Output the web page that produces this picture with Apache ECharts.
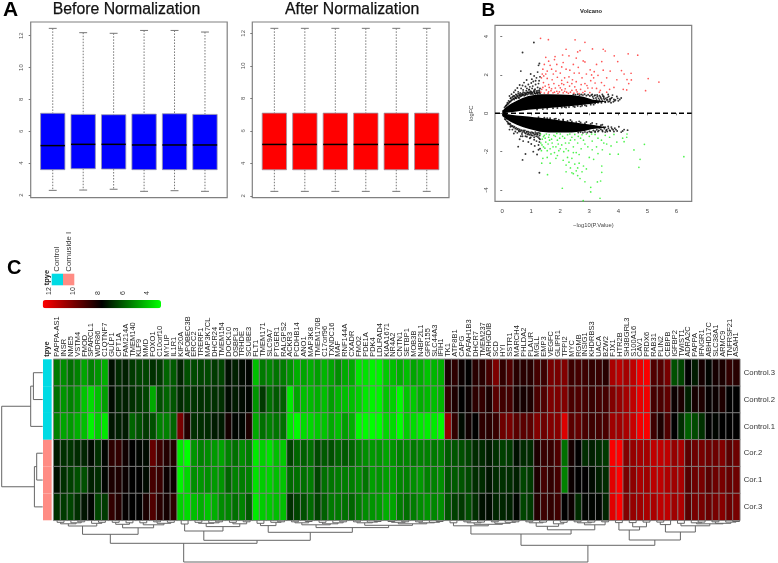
<!DOCTYPE html>
<html><head><meta charset="utf-8">
<style>html,body{margin:0;padding:0;background:#fff}#c{width:778px;height:563px}</style>
<script src="https://cdn.jsdelivr.net/npm/echarts@6/dist/echarts.min.js"></script>
</head><body><div id="c"></div>
<script>
// ---------- Panel A: boxplot statistics [sample, min, Q1, median, Q3, max]
const boxBefore = [
 [1,2.29,3.59,5.10,7.13,12.46],[2,2.31,3.65,5.18,7.06,12.19],[3,2.36,3.63,5.18,7.04,12.15],
 [4,2.23,3.59,5.14,7.08,12.33],[5,2.27,3.59,5.14,7.10,12.33],[6,2.23,3.59,5.14,7.06,12.23]];
const boxAfter = [
 [1,2.27,3.60,5.16,7.09,12.31],[2,2.27,3.60,5.16,7.09,12.31],[3,2.27,3.60,5.16,7.09,12.31],
 [4,2.27,3.60,5.16,7.09,12.31],[5,2.27,3.60,5.16,7.09,12.31],[6,2.27,3.60,5.16,7.09,12.31]];
const boxTicks = [2,4,6,8,10,12];

// ---------- Panel B: volcano
const volcanoRed = [[1.32,3.91],[1.59,3.84],[2.51,3.83],[2.85,3.7],[2.2,3.34],[3.11,3.36],[3.48,3.34],[3.55,3.25],[2.68,3.27],[2.6,3.2],[3.86,3.0],[4.34,3.1],[4.67,3.03],[3.98,2.7],[3.43,2.7],[2.79,2.73],[2.85,2.68],[1.5,2.92],[1.82,2.96],[2.08,3.04],[2.3,3.0],[5.03,1.81],[5.4,1.63],[4.94,1.18],[4.11,2.23],[4.2,2.05],[4.44,2.09],[4.3,1.76],[4.45,1.74],[4.36,1.55],[4.17,1.25],[4.29,1.22],[3.95,1.75],[3.72,2.2],[3.48,2.25],[3.03,2.27],[3.17,2.17],[3.3,1.98],[3.15,1.85],[3.05,1.7],[3.2,1.58],[3.52,1.45],[3.7,1.25],[3.6,1.1],[3.25,1.3],[3.38,1.2],[2.95,1.32],[2.85,1.55],[2.75,1.85],[2.65,2.1],[2.62,2.4],[2.33,2.25],[2.2,2.3],[2.45,2.55],[2.1,2.65],[1.88,2.55],[1.8,2.8],[1.6,2.72],[1.45,2.55],[1.4,2.3],[1.38,2.05],[1.35,1.85],[1.55,2.2],[1.7,2.3],[1.85,2.2],[2,2.1],[2.15,1.85],[2.3,1.9],[2.42,1.75],[2.55,1.65],[2.25,1.62],[2.05,1.72],[1.9,1.88],[1.72,1.75],[1.55,1.82],[1.42,1.6],[1.6,1.5],[1.78,1.55],[1.95,1.45],[2.12,1.5],[2.32,1.42],[2.5,1.38],[2.7,1.25],[2.85,1.15],[3.02,1.08],[2.58,1.12],[2.4,1.2],[2.22,1.1],[2.05,1.22],[1.88,1.15],[1.7,1.28],[1.52,1.22],[1.4,1.35],[1.33,1.1],[1.45,1.06],[1.6,1.12],[1.75,1.07],[1.92,1.04],[2.1,1.07],[2.28,1.04],[2.47,1.05],[2.65,1.03],[2.78,1.08],[1.36,1.25],[1.48,1.42],[1.62,1.35],[1.83,1.32],[2.0,1.33],[2.17,1.28],[1.58,1.05],[1.68,1.18],[1.8,1.1],[1.97,1.12],[2.15,1.15],[2.35,1.1],[2.55,1.22],[2.92,1.45],[3.1,1.32],[3.42,1.6],[3.6,1.85],[3.85,1.35],[2.9,2.05],[3.25,2.55],[2.55,2.88],[2.05,2.42],[1.65,2.5],[1.5,2.05],[1.76,2.05],[2.48,2.1],[2.72,1.5],[3.35,1.1],[3.08,2.0],[2.4,1.55],[2.05,1.55],[1.43,1.95]];
const volcanoGreen = [[6.26,-2.26],[4.9,-1.62],[4.54,-1.91],[4.75,-2.4],[4.71,-2.82],[4.29,-1.25],[4.2,-1.48],[4.15,-1.3],[4.0,-2.13],[3.71,-2.13],[3.43,-2.75],[3.43,-3.08],[3.39,-3.53],[3.28,-3.58],[3.37,-4.43],[2.79,-4.56],[2.07,-3.91],[3.05,-3.86],[3.05,-4.1],[2.85,-3.57],[2.68,-3.4],[1.56,-3.2],[1.36,-2.6],[1.65,-2.6],[1.9,-2.2],[2.1,-2.45],[2.25,-2.3],[2.4,-2.35],[2.2,-2.7],[2.35,-2.85],[2.5,-2.65],[2.65,-2.6],[2.8,-2.75],[2.55,-3.0],[2.4,-3.1],[2.6,-3.25],[2.2,-3.05],[2.9,-2.9],[3.0,-2.3],[3.15,-2.4],[3.3,-2.1],[3.1,-1.9],[3.25,-1.75],[3.45,-1.9],[3.6,-1.6],[3.42,-1.4],[3.7,-1.25],[3.85,-1.1],[3.95,-1.5],[4.3,-1.08],[3.55,-1.15],[3.3,-1.3],[3.1,-1.45],[3.0,-1.2],[2.85,-1.6],[2.9,-1.08],[2.7,-1.3],[2.72,-1.85],[2.6,-1.55],[2.55,-2.05],[2.45,-1.75],[2.4,-1.25],[2.3,-1.55],[2.2,-1.85],[2.15,-1.3],[2.05,-1.65],[2.0,-1.08],[1.95,-1.95],[1.9,-1.4],[1.85,-1.75],[1.8,-2.05],[1.78,-1.15],[1.72,-1.55],[1.65,-1.85],[1.6,-1.25],[1.55,-1.95],[1.5,-1.5],[1.45,-1.15],[1.42,-1.75],[1.38,-1.35],[1.35,-1.95],[1.32,-1.08],[1.33,-1.55],[1.48,-1.3],[1.58,-1.6],[1.7,-1.35],[1.83,-1.2],[1.93,-1.6],[2.08,-1.2],[2.25,-1.12],[2.35,-1.4],[2.5,-1.1],[2.62,-1.2],[2.8,-1.4],[1.52,-1.08],[1.62,-1.12],[1.75,-1.75],[1.88,-1.05],[2.0,-1.85],[2.12,-2.0],[2.28,-1.95],[1.42,-1.22],[1.68,-2.12],[1.55,-2.3],[1.4,-2.35],[2.45,-2.05],[2.65,-2.15],[2.95,-1.75],[3.2,-1.1],[3.5,-1.55],[2.5,-1.38],[1.98,-1.3],[2.18,-1.55],[1.37,-1.65],[1.47,-1.82],[1.63,-1.4],[2.33,-1.08],[2.75,-1.12],[3.08,-1.08],[3.75,-1.7],[2.3,-2.55],[1.85,-2.35],[2.6,-2.85],[2.45,-3.15],[2.75,-3.05]];
const volcanoBlack = [[0.7,3.17],[1.09,3.69],[0.64,2.2],[1.28,2.6],[1.25,2.5],[1.02,1.78],[1.07,1.66],[0.84,1.74],[0.98,2.05],[1.1,1.95],[1.22,2.15],[1.18,1.85],[1.3,1.9],[1.27,1.7],[0.9,1.5],[0.75,1.6],[0.6,1.48],[0.65,1.3],[0.52,1.32],[0.45,1.2],[0.4,1.1],[0.55,1.12],[0.72,1.22],[0.85,1.3],[0.95,1.38],[1.05,1.42],[1.15,1.5],[1.22,1.35],[1.1,1.2],[0.98,1.15],[0.88,1.1],[0.78,1.08],[0.68,1.02],[0.6,0.98],[0.5,0.95],[0.42,0.9],[0.35,0.85],[0.28,0.78],[0.22,0.65],[0.18,0.55],[0.13,0.4],[0.25,0.9],[0.32,1.0],[1.28,1.2],[1.2,1.1],[1.12,1.05],[1.02,1.05],[0.92,1.22],[0.8,1.4],[1.0,1.58],[1.15,1.7],[1.25,1.55],[1.3,1.3],[0.7,1.45],[0.58,0.8],[0.47,0.78],[0.8,0.95],[1.3,1.05],[1.22,1.02],[3.2,0.95],[3.35,0.92],[3.5,0.88],[3.62,0.82],[3.75,0.78],[3.85,0.72],[3.95,0.88],[3.8,0.95],[3.65,0.98],[3.45,0.98],[3.28,0.88],[3.7,0.62],[3.6,0.7],[3.5,0.8],[3.88,0.65],[4.05,0.72],[3.4,0.8],[3.55,0.6],[3.42,0.55],[3.3,0.55],[3.72,0.7],[3.15,0.45],[2.9,0.38],[2.7,0.36],[2.5,0.33],[2.2,0.3],[3.98,0.78],[3.1,0.98],[0.64,-1.2],[0.7,-2.43],[0.8,-2.12],[1.28,-3.1],[0.55,-1.74],[1.07,-2.0],[1.2,-2.15],[1.12,-1.7],[1.25,-1.65],[1.18,-1.45],[1.3,-1.85],[1.27,-1.3],[1.0,-1.6],[0.9,-1.5],[0.72,-1.45],[0.6,-1.35],[0.52,-1.02],[0.45,-0.95],[0.35,-0.85],[0.28,-0.7],[0.2,-0.55],[0.25,-0.85],[0.4,-1.05],[0.58,-0.95],[0.68,-1.08],[0.8,-1.2],[0.9,-1.05],[1.0,-1.15],[1.1,-1.25],[1.22,-1.12],[1.3,-1.05],[0.78,-1.02],[0.95,-1.3],[1.15,-1.08],[0.85,-0.95],[1.05,-1.02],[1.3,-1.35],[1.2,-1.02],[1.28,-1.5],[1.25,-1.9],[3.3,-0.95],[3.45,-0.9],[3.6,-0.85],[3.72,-0.92],[3.85,-0.95],[4.1,-0.98],[4.2,-0.85],[4.32,-0.88],[3.55,-0.98],[3.92,-0.85],[3.78,-0.8],[3.5,-0.72],[3.65,-0.68],[3.25,-0.55],[3.1,-0.5],[2.9,-0.45],[2.65,-0.42],[3.4,-0.62],[3.05,-0.98],[3.2,-0.98],[3.35,-0.7],[2.35,-0.35],[2.1,-0.32],[1.85,-0.28],[1.55,-0.25],[3.62,-0.95]];
const volcanoBlackEdge = [[.08,.3],[.11,.36],[.15,.42],[.17,.47],[.21,.5],[.24,.56],[.26,.6],[.29,.62],[.31,.68],[.34,.7],[.37,.74],[.39,.78],[.41,.72],[.44,.8],[.46,.84],[.49,.78],[.51,.86],[.54,.9],[.56,.82],[.59,.92],[.62,.88],[.64,.96],[.66,.9],[.69,.98],[.71,.94],[.74,1.0],[.76,.92],[.79,1.02],[.82,1.0],[.84,1.06],[.87,.98],[.89,1.08],[.92,1.02],[.94,1.1],[.97,1.06],[.99,1.0],[1.01,1.12],[1.04,1.08],[1.06,1.0],[1.09,1.14],[1.11,1.1],[1.14,1.02],[1.17,1.16],[1.19,1.06],[1.23,1.18],[1.26,1.08],[1.28,1.12],[.62,1.06],[.72,1.1],[.83,1.18],[.93,1.25],[1.03,1.3],[1.13,1.26],[.55,1.02],[.47,.98],[.38,.9],[.3,.8],
[2.45,.98],[2.52,.97],[2.6,.99],[2.66,.94],[2.72,.98],[2.78,.95],[2.84,.99],[2.9,.92],[2.96,.97],[3.02,.9],[3.07,.95],[3.12,.86],[3.18,.92],[3.23,.8],[3.27,.96],[3.32,.78],[3.38,.86],[3.43,.74],[3.47,.9],[3.52,.72],[3.57,.78],[3.63,.7],[3.67,.88],[3.71,.75],[3.78,.82],[3.83,.6],[3.9,.7],[4.0,.65],[4.1,.8],[3.15,.78],[3.25,.7],[3.35,.69],[3.45,.64],[3.55,.58],[3.65,.6],[3.75,.55],[3.05,.45],[3.2,.52],[3.3,.6],
[.09,-.3],[.12,-.34],[.16,-.42],[.19,-.46],[.22,-.52],[.25,-.58],[.27,-.54],[.3,-.62],[.33,-.68],[.36,-.66],[.39,-.74],[.42,-.7],[.45,-.8],[.48,-.76],[.51,-.84],[.54,-.8],[.57,-.9],[.6,-.84],[.63,-.94],[.66,-.88],[.69,-.98],[.72,-.9],[.75,-.96],[.78,-.9],[.81,-1.06],[.84,-.98],[.87,-1.1],[.9,-.96],[.93,-1.12],[.96,-1.0],[.99,-1.08],[1.02,-.98],[1.05,-1.16],[1.08,-1.04],[1.11,-1.12],[1.14,-.98],[1.17,-1.2],[1.2,-1.08],[1.23,-1.24],[1.26,-1.02],[1.29,-1.16],[.98,-1.26],[.85,-1.22],[.7,-1.2],[1.1,-1.38],
[2.62,-1.0],[2.7,-.98],[2.78,-1.02],[2.85,-.97],[2.93,-1.0],[3.0,-.95],[3.08,-.98],[3.14,-.9],[3.2,-.94],[3.26,-.86],[3.33,-.9],[3.4,-.84],[3.46,-.95],[3.52,-.8],[3.58,-.9],[3.66,-.78],[3.7,-.88],[3.76,-.72],[3.82,-.86],[3.88,-.78],[3.96,-.92],[4.02,-.7],[4.15,-.92],[3.15,-.66],[3.25,-.7],[3.35,-.76],[3.45,-.6],[3.55,-.72],[3.05,-.55],
[1.2,.2],[1.4,.22],[1.55,.24],[1.75,.26],[1.9,.28],[2.05,.3],[2.15,.33],[2.3,.33],[2.45,.36],[2.6,.38],[2.75,.4],[2.85,.42],
[1.25,-.2],[1.45,-.23],[1.65,-.26],[1.8,-.3],[1.95,-.34],[2.1,-.36],[2.25,-.4],[2.4,-.42],[2.55,-.46],[2.7,-.48],[2.85,-.52]];
const bandX = [0,0.05,0.1,0.2,0.3,0.5,0.7,0.9,1.1,1.3,1.6,2,2.4,2.8,3.1,3.4,3.6];
const upperBandTop = [0.14,0.2,0.28,0.4,0.5,0.66,0.8,0.9,0.96,1,1,0.98,0.95,0.86,0.72,0.66,0.62];
const upperBandBottom = [0,0,0.02,0.04,0.06,0.1,0.14,0.18,0.21,0.24,0.27,0.33,0.38,0.44,0.5,0.58,0.62];
const lowerBandTop = [0,0,-0.02,-0.05,-0.07,-0.11,-0.14,-0.17,-0.2,-0.23,-0.28,-0.38,-0.46,-0.54,-0.6,-0.68,-0.74];
const lowerBandBottom = [-0.14,-0.2,-0.26,-0.36,-0.45,-0.6,-0.72,-0.8,-0.88,-0.96,-1,-1,-1,-0.94,-0.82,-0.78,-0.74];
const volcanoXTicks = [0,1,2,3,4,5,6];
const volcanoYTicks = [-4,-2,0,2,4];

// ---------- Panel C: heat map
const genes = ['PAPPA-AS1','INSR','NME5','VSTM4','FMOD','SPARCL1','WDR86','C1QTNF7','GULP1','CPT1A','FAM214A','TMEM140','KLF9','MMD','FOXO1','C10orf10','MYLIP','IL1R1','KIF20A','APOBEC3B','ERCC2','TRERF1','MAP3K7CL','DHCR24','TMEM154','DOCK10','OSBPL3','TRHDE','SCUBE3','FLT1','TMEM171','SLC9A7','PTGER1','RALGPS2','ACKR3','PCDHB14','ANO1','MAP3K8','TMEM170B','C17orf96','TXNDC16','MAF','RNF144A','CXADR','FMO2','PDE1A','PDK4','LDLRAD4','KIAA1671','NR4A2','CNTN1','SETBP1','MOB3B','N4BP2L1','GPR155','SLC44A3','IFIH1','TK1','ATP8B1','CAPG','PAFAH1B3','DHCR7','TMEM237','ARHGDIB','SCD','HYI','SSTR1','MARCH4','PHLDA2','PLAUR','MGLL','EMP3','VEGFC','GLIPR1','TFPI2','MYC','RGMB','INSIG1','KHDRBS3','UACA','BZW2','FJX1','HTR2B','SH3BGRL3','S100A16','CAV1','PRDX6','RAB31','PLIN2','CEBPB','IGFBP2','TWIST1','ADRA2C','PAPPA','IFNGR1','ABHD17C','SLC38A1','ARMC9','TNFRSF21','ASAH1'];
const samples = ['Control.3','Control.2','Control.1','Cor.2','Cor.1','Cor.3'];
const sampleType = ['Control','Control','Control','Cornuside I','Cornuside I','Cornuside I'];
const typeNames = ['Control','Cornuside I'];
const typeTitle = ['tpye'];
const control3 = [5.4,5.05,5.6,5.25,4.6,5.25,4.9,4.4,7.4,6.9,7.1,6.6,6.4,6.4,6.8,6.6,5.8,6.0,7.0,6.2,6.3,6.4,6.3,6.6,6.4,7.4,7.1,7.5,7.6,4.1,5.4,5.15,5.5,5.35,4.9,4.4,4.6,4.4,4.7,4.3,4.6,5.05,4.5,4.5,3.35,3.45,3.1,3.1,3.9,4.1,4.4,4.1,4.6,4.4,4.0,4.3,4.4,8.2,8.55,7.9,7.7,8.45,8.45,9.0,10.05,8.65,9.2,8.45,8.45,8.45,9.0,8.85,9.95,9.95,10.15,8.85,9.0,8.85,8.65,8.75,8.45,10.9,11.2,10.8,11.3,12.15,12.4,9.2,9.3,9.95,6.2,6.4,7.7,7.2,8.1,7.6,8.1,8.2,8.65,8.45];
const control2 = [5.6,4.9,5.25,4.9,4.0,3.55,4.1,4.7,7.5,7.0,7.1,6.8,6.6,6.4,4.5,6.2,5.8,6.1,6.9,6.6,6.7,6.8,6.7,6.8,6.8,7.5,7.2,7.5,7.6,4.9,6.6,5.6,6.0,5.9,3.3,4.6,4.1,4.2,4.4,4.1,4.7,4.3,4.1,4.1,3.75,3.35,3.1,3.1,4.0,3.75,3.0,4.0,3.9,4.4,4.2,4.1,4.3,8.65,8.25,7.7,7.9,8.55,8.65,8.2,9.4,8.9,9.0,8.2,8.1,8.25,9.1,9.2,10.05,10.05,10.15,9.1,9.2,9.0,8.75,9.0,9.0,10.15,10.5,10.8,11.3,12.05,12.2,9.0,9.1,9.5,7.9,8.2,7.1,8.1,8.25,7.8,7.9,8.25,7.7,7.7];
const control1 = [5.25,4.6,4.8,4.4,4.1,3.1,3.85,3.35,7.3,7.1,7.2,5.8,6.2,6.6,6.2,5.25,5.25,5.8,9.95,8.35,6.8,6.85,6.9,7.2,7.2,8.1,7.6,7.6,8.25,4.5,5.6,5.25,5.5,5.6,3.35,3.0,3.55,3.65,3.9,4.0,4.5,4.1,4.7,4.4,3.0,3.0,2.9,2.9,3.65,3.55,2.9,3.85,3.55,3.3,3.2,3.3,3.0,10.5,8.65,7.5,8.0,7.7,8.55,8.45,8.75,9.75,9.95,9.4,9.4,9.4,10.15,9.75,10.15,10.25,11.85,9.4,9.6,9.1,8.85,9.0,9.1,10.7,10.7,10.9,11.45,12.3,12.4,8.85,8.25,9.2,7.7,6.85,5.9,6.3,6.8,7.7,7.6,7.7,7.7,7.7];
const cor2 = [7.2,6.8,6.7,6.9,7.0,7.5,6.8,7.6,8.55,8.65,8.0,7.7,7.6,7.5,9.6,8.85,8.35,8.35,3.3,2.9,4.9,5.25,5.05,4.8,4.6,5.25,5.6,5.05,5.35,3.3,3.75,3.45,4.1,3.9,6.4,5.8,5.9,5.6,6.3,6.0,6.2,5.8,6.0,5.8,5.25,5.0,4.8,4.9,4.6,4.9,5.25,5.15,5.4,5.25,5.25,5.4,5.25,6.0,6.1,6.2,6.4,6.9,6.9,7.2,6.8,6.5,6.6,7.4,6.9,6.9,8.25,8.75,8.75,9.2,5.6,8.1,7.7,6.85,7.1,6.85,6.6,12.4,12.5,10.15,10.5,10.8,10.8,11.3,11.35,11.3,10.5,10.9,9.4,9.75,9.95,9.75,9.75,10.15,9.4,9.75];
const cor1 = [7.4,6.8,6.5,6.2,6.2,7.1,6.85,7.6,8.2,8.25,7.9,7.7,7.7,7.5,9.0,8.75,7.9,7.9,3.1,3.65,5.0,4.9,5.0,4.8,4.9,5.8,5.25,5.35,5.25,3.45,3.85,3.75,4.1,4.0,5.7,5.6,5.6,5.35,6.4,5.6,5.5,5.35,5.35,5.35,5.05,5.5,4.7,4.9,4.7,4.7,5.15,5.25,5.0,4.8,5.25,5.25,5.0,6.1,6.0,6.1,6.3,6.85,6.9,7.3,6.9,6.8,6.85,7.1,6.4,6.6,8.25,9.0,8.65,9.0,5.25,7.9,7.7,7.7,7.5,7.1,6.85,11.95,12.5,9.95,10.35,10.9,10.7,11.2,11.3,11.0,10.7,10.9,9.3,9.75,9.95,9.4,9.75,9.95,9.6,9.75];
const cor3 = [6.8,6.6,6.4,6.8,7.3,7.6,6.4,6.6,8.65,8.35,7.8,7.7,7.7,8.2,9.2,8.45,8.1,8.55,3.75,3.55,4.1,4.4,4.0,4.4,5.05,5.15,5.6,5.25,6.0,3.3,3.85,3.9,4.1,4.1,6.8,6.4,6.2,5.7,6.4,5.9,5.4,5.4,5.6,5.8,5.35,5.05,4.9,4.8,4.4,4.6,5.35,5.6,5.35,5.05,4.9,5.15,5.0,6.1,6.5,6.6,6.2,6.8,7.4,7.5,7.0,7.0,7.1,7.6,6.4,6.6,8.35,8.85,8.65,8.9,7.7,7.9,6.9,7.6,7.6,7.6,7.0,11.95,12.5,10.15,10.5,10.7,10.9,10.9,11.3,11.3,10.7,11.0,9.4,9.95,9.95,9.7,9.95,10.25,9.7,9.95];
const colorTicks = [4,6,8,10,12];
const colorScale = [2.9,12.5];

// Dendrograms: [height, left, right], leaves are 1-based positions
const columnTree = [41.7,
 [23,
  [14,
   [5.7,[3.5,[2,1,2],[2.5,3,[1.5,4,5]]],[3,6,[2,7,8]]],
   [7.5,[4,[2,9,10],[2.5,11,12]],[4.5,[2.5,13,14],[3,[1.5,15,16],[2,17,18]]]]],
  [20,
   [10.7,[3.7,19,20],[6.3,[3,[2,21,22],[2.5,23,[1.5,24,25]]],[3.5,[2,26,27],[1.5,28,29]]]],
   [12,
    [5.3,[3,30,31],[2,32,[1.5,33,34]]],
    [7.3,
     [4.5,[2.5,[1.5,35,36],[1.2,37,38]],[3.5,[2,39,40],[2.5,41,[1.5,42,43]]]],
     [5,[2.5,[1.5,44,45],[1.8,46,[1.2,47,48]]],[3.5,[2,[1.2,49,50],[1.5,51,52]],[2.5,[1.5,53,54],[2,55,[1.2,56,57]]]]]]]]],
 [25,
  [13.7,
   [5.5,[2.5,58,59],[4,[2.5,[1.5,60,61],[1.8,62,63]],[3,[1.5,64,65],[2,66,[1.5,67,68]]]]],
   [9.5,[6,[2.5,[1.5,69,70],[1.8,71,72]],[3.5,73,[2,74,75]]],[4.5,[2.5,[1.5,76,77],[1.8,78,79]],[1.5,80,81]]]],
  [19.7,
   [9.7,[2.3,82,83],[6.5,[2.3,84,85],[1.8,86,87]]],
   [11.7,[4.3,[1.8,88,89],90],[5.5,[3,91,92],[3.5,[2.5,93,[1.8,94,95]],[3,[1.5,96,97],[1.8,98,[1.2,99,100]]]]]]]]];
const rowTree = [41,[12,[9.3,1,2],3],[8.3,[6,4,5],6]];

const FONT = 'Liberation Sans, Arial, sans-serif';
function boxRender(params, api){
  const x=api.value(0), mn=api.coord([x,api.value(1)]), q1=api.coord([x,api.value(2)]), md=api.value(3), q3=api.coord([x,api.value(4)]), mx=api.coord([x,api.value(5)]);
  const color = params.seriesName==='before'?'#0000ff':'#ff0000';
  const bw = api.size([0.8,0])[0], cw = api.size([0.26,0])[0];
  const cx=q1[0], my=api.coord([x,md])[1];
  const grey={stroke:'#777',lineWidth:1}, dash={stroke:'#777',lineWidth:1,lineDash:[1.5,1.5]};
  return {type:'group',children:[
    {type:'line',shape:{x1:cx,y1:mx[1],x2:cx,y2:q3[1]},style:dash},
    {type:'line',shape:{x1:cx,y1:q1[1],x2:cx,y2:mn[1]},style:dash},
    {type:'line',shape:{x1:cx-cw/2,y1:mx[1],x2:cx+cw/2,y2:mx[1]},style:grey},
    {type:'line',shape:{x1:cx-cw/2,y1:mn[1],x2:cx+cw/2,y2:mn[1]},style:grey},
    {type:'rect',shape:{x:cx-bw/2,y:q3[1],width:bw,height:q1[1]-q3[1]},style:{fill:color,stroke:'#9a9aa8',lineWidth:0.8}},
    {type:'line',shape:{x1:cx-bw/2,y1:my,x2:cx+bw/2,y2:my},style:{stroke:'#000',lineWidth:1.5}}
  ]};
}
function bandRender(top,bottom){
  return function(params,api){
    const pts=[];
    bandX.forEach((x,i)=>pts.push(api.coord([x,top[i]])));
    for(let i=bandX.length-1;i>=0;i--)pts.push(api.coord([bandX[i],bottom[i]]));
    return {type:'polygon',shape:{points:pts},style:{fill:'#000'}};
  };
}
function flatten(tree){
  const out=[];
  (function walk(n){
    if(typeof n==='number')return {pos:n-0.5,h:0};
    const a=walk(n[1]),b=walk(n[2]);
    out.push([a.pos,a.h,b.pos,b.h,n[0]]);
    return {pos:(a.pos+b.pos)/2,h:n[0]};
  })(tree);
  return out;
}
function topDendro(p,api){
  const a=api.coord([api.value(0),api.value(1)]),b=api.coord([api.value(0),api.value(4)]),c=api.coord([api.value(2),api.value(4)]),d=api.coord([api.value(2),api.value(3)]);
  return {type:'polyline',shape:{points:[a,b,c,d]},style:{fill:null,stroke:'#666',lineWidth:1}};
}
function leftDendro(p,api){
  const a=api.coord([api.value(1),api.value(0)]),b=api.coord([api.value(4),api.value(0)]),c=api.coord([api.value(4),api.value(2)]),d=api.coord([api.value(3),api.value(2)]);
  return {type:'polyline',shape:{points:[a,b,c,d]},style:{fill:null,stroke:'#666',lineWidth:1}};
}
function typeCell(p,api){
  const c=api.coord([api.value(0),api.value(1)]), s=api.size([1,1]);
  return {type:'rect',shape:{x:c[0]-s[0]/2,y:c[1]-s[1]/2,width:s[0],height:s[1]},style:{fill:api.value(2)===0?'#00dbe4':'#ff8c84'}};
}
// rotated column labels, anchored on the category position of their own axis
function columnLabels(names,gap,font,fill){
  return function(p,api){
    const c=api.coord([p.dataIndex,0]), s=api.size([1,1]);
    return {type:'text',x:c[0],y:c[1]-s[1]/2-gap,rotation:Math.PI/2,
      style:{text:names[p.dataIndex],font,fill,align:'left',verticalAlign:'middle'}};
  };
}
const heatData=[];
[control3,control2,control1,cor2,cor1,cor3].forEach((r,y)=>r.forEach((v,x)=>heatData.push([x,y,v])));

const hiddenVal=(extra)=>Object.assign({type:'value',show:false,splitLine:{show:false}},extra);
const yBox=(gi,min,max)=>({type:'value',gridIndex:gi,min,max,splitLine:{show:false},axisLine:{show:false},
  axisTick:{show:true,length:2,lineStyle:{color:'#777'},customValues:boxTicks},
  axisLabel:{rotate:90,fontSize:6,color:'#555',fontFamily:FONT,margin:6,customValues:boxTicks}});
const frame={show:true,borderColor:'#808080',borderWidth:1.2,backgroundColor:'#fff'};
const txt=(text,left,top,size,weight,color,extra)=>({text,left,top,padding:0,textStyle:Object.assign({fontFamily:FONT,fontSize:size,fontWeight:weight||'normal',color:color||'#111'},extra||{})});
const heavy={textBorderColor:'#111',textBorderWidth:0.25};
const bareCat=(gi,data)=>({type:'category',gridIndex:gi,data,axisLine:{show:false},axisTick:{show:false},axisLabel:{show:false},splitLine:{show:false}});

const option={
 animation:false,backgroundColor:'#fff',
 title:[
  txt('A',3,0,21,'bold','#000'),txt('B',481.5,1,19,'bold','#000'),txt('C',7,258,20,'bold','#000'),
  txt('Before Normalization',52.7,2,15.8,'normal','#111',heavy),txt('After Normalization',285,2,15.8,'normal','#111',heavy),
  txt('Volcano',580,8,5.8,'bold','#222')
 ],
 grid:[
  Object.assign({left:30.7,top:22,width:196.5,height:175.7},frame),
  Object.assign({left:252.3,top:22,width:196.7,height:175.7},frame),
  Object.assign({left:495,top:25.3,width:196.7,height:176},frame),
  {left:53.67,top:359.3,width:689.3,height:161},
  {left:43,top:359.3,width:8.67,height:161},
  {left:53.67,top:520.3,width:689.3,height:42.7},
  {left:0,top:359.3,width:42.7,height:161},
  {left:51.7,top:273.7,width:22.6,height:11.6},
  {left:42.7,top:300,width:118.3,height:8.3}
 ],
 xAxis:[
  hiddenVal({gridIndex:0,min:0.276,max:6.73}),
  hiddenVal({gridIndex:1,min:0.276,max:6.73}),
  {type:'value',gridIndex:2,min:-0.25,max:6.53,splitLine:{show:false},axisLine:{show:false},name:'\u2212log10(P.Value)',nameLocation:'middle',nameGap:21.5,
   nameTextStyle:{fontSize:5.8,color:'#444',fontFamily:FONT},
   axisTick:{show:true,length:2,lineStyle:{color:'#777'},customValues:volcanoXTicks},
   axisLabel:{fontSize:6,color:'#444',fontFamily:FONT,margin:7.5,customValues:volcanoXTicks}},
  bareCat(3,genes),
  bareCat(4,typeTitle),
  hiddenVal({gridIndex:5,min:0,max:100}),
  hiddenVal({gridIndex:6,min:0,max:42.7,inverse:true}),
  bareCat(7,typeNames),
  {type:'value',gridIndex:8,min:colorScale[0],max:colorScale[1],inverse:true,position:'top',splitLine:{show:false},axisLine:{show:false},axisTick:{show:false},
   axisLabel:{rotate:90,fontSize:7,color:'#333',fontFamily:FONT,margin:5,customValues:colorTicks}}
 ],
 yAxis:[
  yBox(0,1.83,12.86),yBox(1,1.88,12.70),
  {type:'value',gridIndex:2,min:-4.59,max:4.59,splitLine:{show:false},axisLine:{show:false},name:'logFC',nameLocation:'middle',nameGap:21,
   nameTextStyle:{fontSize:5.8,color:'#444',fontFamily:FONT},
   axisTick:{show:true,length:2,lineStyle:{color:'#777'},customValues:volcanoYTicks},
   axisLabel:{rotate:90,fontSize:6,color:'#444',fontFamily:FONT,margin:6,customValues:volcanoYTicks}},
  {type:'category',gridIndex:3,data:samples,inverse:true,position:'right',axisLine:{show:false},axisTick:{show:false},splitLine:{show:false},
   axisLabel:{interval:0,fontSize:7.7,color:'#333',fontFamily:FONT,margin:4}},
  {type:'category',gridIndex:4,data:samples,inverse:true,show:false},
  hiddenVal({gridIndex:5,min:0,max:42.7,inverse:true}),
  hiddenVal({gridIndex:6,min:0,max:6,inverse:true}),
  {type:'category',gridIndex:7,data:['t'],show:false},
  {type:'value',gridIndex:8,show:false}
 ],
 visualMap:[{type:'continuous',seriesIndex:6,min:colorScale[0],max:colorScale[1],orient:'horizontal',inverse:true,calculable:false,realtime:false,hoverLink:false,
   left:42.7,top:300,padding:0,itemWidth:8.3,itemHeight:118.3,showLabel:false,text:null,
   inRange:{color:['#00ff00','#000000','#ff0000']}}],
 series:[
  {name:'before',type:'custom',xAxisIndex:0,yAxisIndex:0,data:boxBefore,renderItem:boxRender,encode:{x:0,y:[1,5]},silent:true},
  {name:'after',type:'custom',xAxisIndex:1,yAxisIndex:1,data:boxAfter,renderItem:boxRender,encode:{x:0,y:[1,5]},silent:true},
  {name:'bands',type:'custom',xAxisIndex:2,yAxisIndex:2,data:[0],renderItem:bandRender(upperBandTop,upperBandBottom),silent:true,clip:true},
  {name:'bands2',type:'custom',xAxisIndex:2,yAxisIndex:2,data:[0],renderItem:bandRender(lowerBandTop,lowerBandBottom),silent:true,clip:true},
  {name:'points',type:'scatter',xAxisIndex:2,yAxisIndex:2,data:volcanoBlack.concat(volcanoBlackEdge),symbolSize:1.9,itemStyle:{color:'#000'},silent:true},
  {name:'zero',type:'line',xAxisIndex:2,yAxisIndex:2,data:[[-0.25,0],[6.53,0]],symbol:'none',lineStyle:{color:'#000',width:1.5,type:[5,3]},silent:true},
  {name:'expr',type:'heatmap',xAxisIndex:3,yAxisIndex:3,data:heatData,itemStyle:{borderColor:'#858585',borderWidth:0.9},emphasis:{disabled:true},silent:true,progressive:0},
  {name:'type',type:'custom',xAxisIndex:4,yAxisIndex:4,data:sampleType.map((t,i)=>[0,i,typeNames.indexOf(t)]),renderItem:typeCell,silent:true},
  {name:'cols',type:'custom',xAxisIndex:5,yAxisIndex:5,data:flatten(columnTree),renderItem:topDendro,silent:true},
  {name:'rows',type:'custom',xAxisIndex:6,yAxisIndex:6,data:flatten(rowTree),renderItem:leftDendro,silent:true},
  {name:'typeKey',type:'custom',xAxisIndex:7,yAxisIndex:7,data:typeNames.map((t,i)=>[i,0,i]),renderItem:typeCell,silent:true},
  {name:'colorAxis',type:'scatter',xAxisIndex:8,yAxisIndex:8,data:[],silent:true},
  {name:'up',type:'scatter',xAxisIndex:2,yAxisIndex:2,data:volcanoRed,symbolSize:1.7,itemStyle:{color:'#ff2a2a'},silent:true},
  {name:'down',type:'scatter',xAxisIndex:2,yAxisIndex:2,data:volcanoGreen,symbolSize:1.7,itemStyle:{color:'#22f022'},silent:true},
  {name:'geneLabels',type:'custom',xAxisIndex:3,yAxisIndex:3,data:genes.map((g,i)=>[i,0]),renderItem:columnLabels(genes,2.5,'7.5px Liberation Sans','#222'),silent:true,clip:false},
  {name:'typeTitleLabel',type:'custom',xAxisIndex:4,yAxisIndex:4,data:[[0,0]],renderItem:columnLabels(typeTitle,2.5,'bold 7.5px Liberation Sans','#222'),silent:true,clip:false},
  {name:'typeKeyLabels',type:'custom',xAxisIndex:7,yAxisIndex:7,data:typeNames.map((t,i)=>[i,0]),renderItem:columnLabels(typeNames,2,'7.8px Liberation Sans','#333'),silent:true,clip:false},
  {name:'typeKeyTitle',type:'custom',xAxisIndex:7,yAxisIndex:7,data:[[0,0]],renderItem:function(p,api){const c=api.coord([0,0]),s=api.size([1,1]);return {type:'text',x:c[0]-s[0]/2-5,y:c[1]+s[1]/2,rotation:Math.PI/2,style:{text:typeTitle[0],font:'bold 7.5px Liberation Sans',fill:'#222',align:'left',verticalAlign:'middle'}};},silent:true,clip:false}
 ]
};
echarts.init(document.getElementById('c'),null,{renderer:'canvas'}).setOption(option);
</script></body></html>
